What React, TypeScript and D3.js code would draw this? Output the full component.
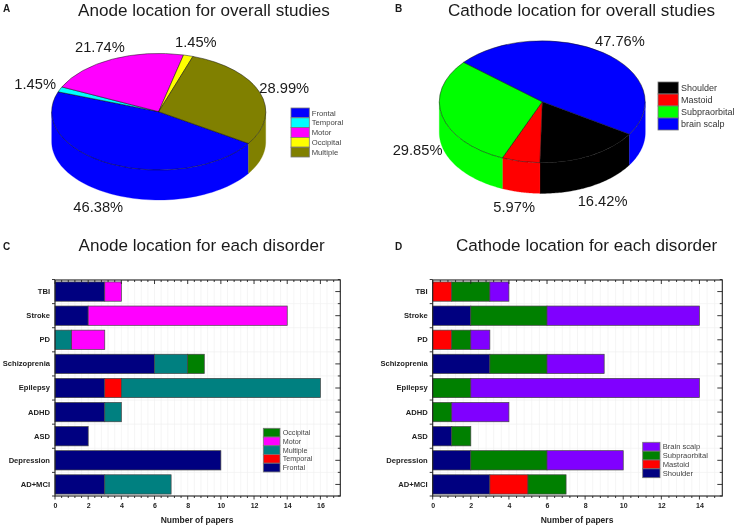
import React, { useEffect, useRef } from "react";
import * as d3 from "d3";

const anodeLabels = ["Frontal", "Temporal", "Motor", "Occipital", "Multiple"];
const anodeShares = [46.38, 1.45, 21.74, 1.45, 28.99];
const anodeColors = ["#0000ff", "#00ffff", "#ff00ff", "#ffff00", "#808000"];
const cathodeLabels = ["Shoulder", "Mastoid", "Subpraorbital", "brain scalp"];
const cathodeShares = [16.42, 5.97, 29.85, 47.76];
const cathodeColors = ["#000000", "#ff0000", "#00ff00", "#0000ff"];

const disorders = ["TBI", "Stroke", "PD", "Schizoprenia", "Epilepsy", "ADHD", "ASD", "Depression", "AD+MCI"];

const anodeFrontal = [3, 2, 0, 6, 3, 3, 2, 10, 3];
const anodeTemporal = [0, 0, 0, 0, 1, 0, 0, 0, 0];
const anodeMultiple = [0, 0, 1, 2, 12, 1, 0, 0, 4];
const anodeMotor = [1, 12, 2, 0, 0, 0, 0, 0, 0];
const anodeOccipital = [0, 0, 0, 1, 0, 0, 0, 0, 0];

const cathodeShoulder = [0, 2, 0, 3, 0, 0, 1, 2, 3];
const cathodeMastoid = [1, 0, 1, 0, 0, 0, 0, 0, 2];
const cathodeSubpraorbital = [2, 4, 1, 3, 2, 1, 1, 4, 2];
const cathodeScalp = [1, 8, 1, 3, 12, 3, 0, 4, 0];

const FONT = "'Liberation Sans', Arial, sans-serif";
const rad = (d: number) => (d * Math.PI) / 180;

type PieCfg = {
  labels: string[]; shares: number[]; colors: string[];
  cx: number; cy: number; rx: number; ry: number; depth: number; start: number;
};

function drawPie(g: any, c: PieCfg) {
  const arcs = d3.pie<number>().sort(null).startAngle(rad(c.start)).endAngle(rad(c.start + 360))(c.shares);
  const pt = (a: number, dy = 0): [number, number] => [c.cx + c.rx * Math.sin(a), c.cy - c.ry * Math.cos(a) + dy];
  const line = d3.line();
  arcs.forEach((s, i) => {
    [0, 2 * Math.PI].forEach((shift) => {
      const a0 = Math.max(s.startAngle, rad(90) + shift);
      const a1 = Math.min(s.endAngle, rad(270) + shift);
      if (a1 <= a0) return;
      const as = d3.range(0, 61).map((k) => a0 + ((a1 - a0) * k) / 60);
      const poly = [...as.map((a) => pt(a)), ...as.slice().reverse().map((a) => pt(a, c.depth))];
      g.append("path").attr("d", line(poly) + "Z").attr("fill", c.colors[i]).attr("stroke", c.colors[i]).attr("stroke-width", 0.3);
    });
  });
  const arc = d3.arc<any>().innerRadius(0).outerRadius(1);
  const face = g.append("g").attr("transform", `translate(${c.cx},${c.cy}) scale(${c.rx},${c.ry})`);
  arcs.forEach((s, i) => {
    face.append("path").attr("d", arc(s)).attr("fill", c.colors[i])
      .attr("stroke", "#111").attr("stroke-width", 0.5).attr("vector-effect", "non-scaling-stroke");
  });
}

function drawLegend(g: any, labels: string[], colors: string[], x: number, y: number, w: number, rowH: number, size: number, textX: number, color = "#333") {
  labels.forEach((l, i) => {
    g.append("rect").attr("x", x).attr("y", y + i * rowH).attr("width", w).attr("height", rowH)
      .attr("fill", colors[i]).attr("stroke", "#777").attr("stroke-width", 0.8);
    g.append("text").attr("x", textX).attr("y", y + i * rowH + rowH / 2 + size * 0.36)
      .attr("font-size", size).attr("fill", color).text(l);
  });
}

type BarCfg = {
  keys: string[]; series: number[][]; colors: string[];
  left: number; right: number; top: number; bottom: number; xMax: number; pxTicks: number[];
  legendLabels: string[]; legendColors: string[]; lx: number; ly: number; lw: number; lh: number; lsize: number; ltx: number;
  xLabelX: number;
};

function drawBars(g: any, c: BarCfg) {
  const x = d3.scaleLinear().domain([0, c.xMax]).range([c.left, c.right]);
  const y = d3.scaleBand<string>().domain(disorders).range([c.top, c.bottom]).paddingInner(0.2).paddingOuter(0.08);
  const minor = d3.range(0, c.xMax, 0.4);
  const boundaries = disorders.map((d) => (y(d) as number) - y.step() * 0.1).concat([c.bottom]);
  const centers = disorders.map((d) => (y(d) as number) + y.bandwidth() / 2);

  g.selectAll(".gx").data(minor).join("line").attr("x1", (d: number) => x(d)).attr("x2", (d: number) => x(d))
    .attr("y1", c.top).attr("y2", c.bottom).attr("stroke", "#f0f0f0").attr("stroke-width", 0.7);
  g.selectAll(".gy").data(boundaries).join("line").attr("y1", (d: number) => d).attr("y2", (d: number) => d)
    .attr("x1", c.left).attr("x2", c.right).attr("stroke", "#f0f0f0").attr("stroke-width", 0.7);

  const rows = disorders.map((d, i) => {
    const o: any = { d };
    c.keys.forEach((k, j) => (o[k] = c.series[j][i]));
    return o;
  });
  const stacked = d3.stack<any>().keys(c.keys)(rows);
  stacked.forEach((layer, j) => {
    layer.forEach((seg: any) => {
      if (seg[1] <= seg[0]) return;
      g.append("rect").attr("x", x(seg[0])).attr("width", x(seg[1]) - x(seg[0]))
        .attr("y", y(seg.data.d)).attr("height", y.bandwidth())
        .attr("fill", c.colors[j]).attr("stroke", "#444").attr("stroke-width", 0.7);
    });
  });

  g.append("rect").attr("x", c.left).attr("y", c.top).attr("width", c.right - c.left).attr("height", c.bottom - c.top)
    .attr("fill", "none").attr("stroke", "#222").attr("stroke-width", 1.1);

  const tick = (x1: number, y1: number, x2: number, y2: number, w = 0.9) =>
    g.append("line").attr("x1", x1).attr("y1", y1).attr("x2", x2).attr("y2", y2).attr("stroke", "#222").attr("stroke-width", w);

  minor.forEach((v) => {
    const major = Math.abs(v / 2 - Math.round(v / 2)) < 1e-6;
    tick(x(v), c.top, x(v), c.top + (major ? 4 : 2));
    tick(x(v), c.bottom, x(v), c.bottom + (major ? 3.5 : 2));
  });
  boundaries.forEach((b) => { tick(c.left - 3, b, c.left, b); tick(c.right - 2.5, b, c.right, b); });
  centers.forEach((b) => tick(c.right - 5, b, c.right, b));

  const xAxis = d3.axisBottom(x).tickValues(c.pxTicks).tickSize(0).tickPadding(0).tickFormat(d3.format("d") as any);
  const ax = g.append("g").attr("transform", `translate(0,${c.bottom + 7})`).call(xAxis);
  ax.select(".domain").remove();
  ax.selectAll("text").attr("font-size", 7).attr("font-weight", "bold").attr("font-family", FONT).attr("fill", "#222");

  const yAxis = d3.axisLeft(y).tickSize(0).tickPadding(5);
  const ay = g.append("g").attr("transform", `translate(${c.left},0)`).call(yAxis);
  ay.select(".domain").remove();
  ay.selectAll("text").attr("font-size", 7.6).attr("font-weight", "bold").attr("font-family", FONT).attr("fill", "#222");

  g.append("text").attr("x", c.xLabelX).attr("y", 523).attr("text-anchor", "middle")
    .attr("font-size", 8.5).attr("font-weight", "bold").attr("fill", "#222").text("Number of papers");

  drawLegend(g, c.legendLabels, c.legendColors, c.lx, c.ly, c.lw, c.lh, c.lsize, c.ltx, "#444");
}

export default function App() {
  const ref = useRef<SVGSVGElement>(null);
  useEffect(() => {
    const svg = d3.select(ref.current);
    svg.selectAll("*").remove();
    const root: any = svg.append("g").attr("font-family", FONT);

    const text = (x: number, y: number, s: string, size: number, extra: any = {}) => {
      const t = root.append("text").attr("x", x).attr("y", y).attr("font-size", size).attr("fill", extra.fill || "#1a1a1a").text(s);
      if (extra.bold) t.attr("font-weight", "bold");
    };

    text(3, 12, "A", 10, { bold: true });
    text(395, 12, "B", 10, { bold: true });
    text(3, 250, "C", 10, { bold: true });
    text(395, 250, "D", 10, { bold: true });

    text(78, 15.5, "Anode location for overall studies", 17.1);
    text(448, 15.5, "Cathode location for overall studies", 17.1);
    text(78.5, 250.5, "Anode location for each disorder", 17.1);
    text(456, 250.5, "Cathode location for each disorder", 17.1);

    drawPie(root, { labels: anodeLabels, shares: anodeShares, colors: anodeColors, cx: 158.7, cy: 111.7, rx: 107, ry: 58.3, depth: 30, start: 123 });
    drawPie(root, { labels: cathodeLabels, shares: cathodeShares, colors: cathodeColors, cx: 542.3, cy: 101.7, rx: 103, ry: 61, depth: 30.7, start: 122.2 });

    [[75, 51.7, 2], [175, 46.7, 3], [14.3, 89, 1], [259.3, 92.7, 4], [73.3, 211.7, 0]].forEach(([x, y, i]) =>
      text(x, y, anodeShares[i].toFixed(2) + "%", 14.7));
    [[595, 46, 3], [392.7, 155, 2], [577.7, 205.7, 0], [493.3, 212.3, 1]].forEach(([x, y, i]) =>
      text(x, y, cathodeShares[i].toFixed(2) + "%", 14.7));

    drawLegend(root, anodeLabels, anodeColors, 291, 108, 18.3, 9.8, 7.7, 311.7, "#444");
    drawLegend(root, cathodeLabels, cathodeColors, 658, 82, 20.3, 12, 9, 681, "#333");

    drawBars(root.append("g"), {
      keys: ["Frontal", "Temporal", "Multiple", "Motor", "Occipital"],
      series: [anodeFrontal, anodeTemporal, anodeMultiple, anodeMotor, anodeOccipital],
      colors: ["#000080", "#ff0000", "#008080", "#ff00ff", "#008000"],
      left: 55, right: 340.3, top: 280, bottom: 496, xMax: 17.2, pxTicks: [0, 2, 4, 6, 8, 10, 12, 14, 16],
      legendLabels: ["Occipital", "Motor", "Multiple", "Temporal", "Frontal"],
      legendColors: ["#008000", "#ff00ff", "#008080", "#ff0000", "#000080"],
      lx: 263.3, ly: 428.3, lw: 16.7, lh: 8.73, lsize: 7.2, ltx: 282.7, xLabelX: 197,
    });
    drawBars(root.append("g"), {
      keys: ["Shoulder", "Mastoid", "Subpraorbital", "Brain scalp"],
      series: [cathodeShoulder, cathodeMastoid, cathodeSubpraorbital, cathodeScalp],
      colors: ["#000080", "#ff0000", "#008000", "#8000ff"],
      left: 432.7, right: 722.3, top: 280, bottom: 496, xMax: 15.2, pxTicks: [0, 2, 4, 6, 8, 10, 12, 14],
      legendLabels: ["Brain scalp", "Subpraorbital", "Mastoid", "Shoulder"],
      legendColors: ["#8000ff", "#008000", "#ff0000", "#000080"],
      lx: 642.7, ly: 442.3, lw: 17.3, lh: 8.85, lsize: 7.6, ltx: 662.7, xLabelX: 577,
    });
  }, []);
  return (
    <svg ref={ref} width={738} height={528} viewBox="0 0 738 528"
      style={{ position: "fixed", left: 0, top: 0, background: "#fff", filter: "blur(0.35px)" }} />
  );
}
